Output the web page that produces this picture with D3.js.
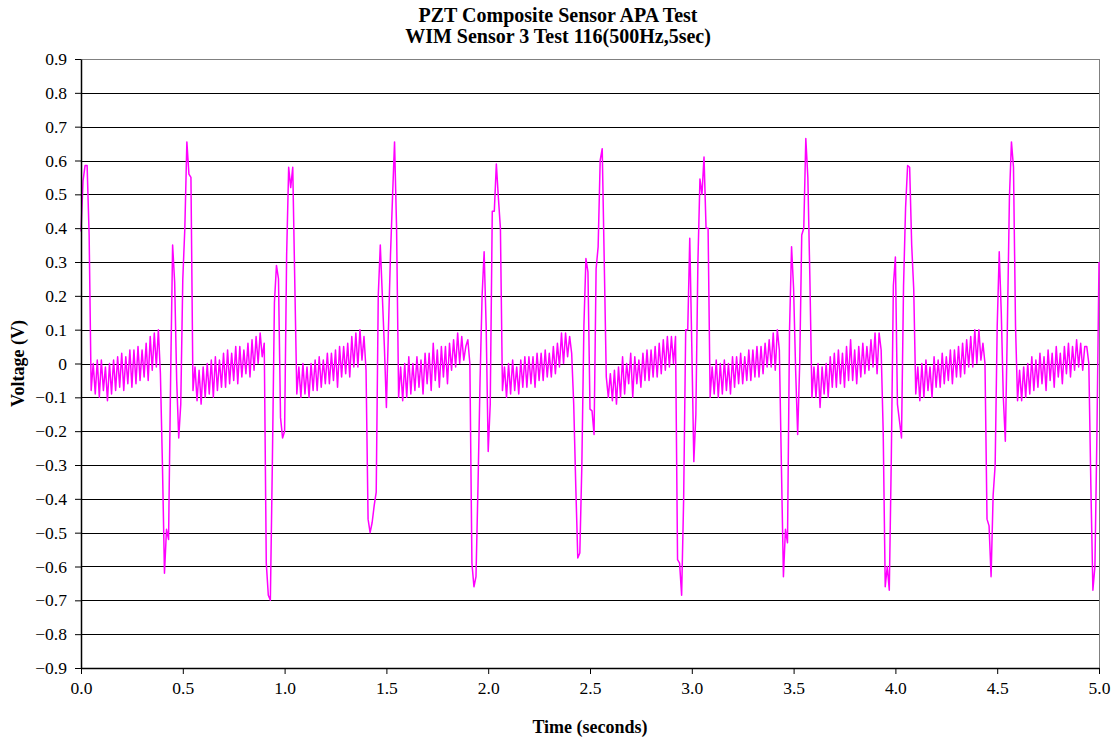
<!DOCTYPE html>
<html>
<head>
<meta charset="utf-8">
<script src="https://cdn.jsdelivr.net/npm/d3@7"></script>
<style>
  html, body { margin: 0; padding: 0; background: #fff; }
  svg text { font-family: "Liberation Serif", "Times New Roman", serif !important; fill: #000; }
</style>
</head>
<body>
<div id="chart"></div>
<script>
// voltage samples, every 0.01 s, split in half-second blocks
const step = 0.01;
const blockStart = [0.0, 0.5, 1.0, 1.5, 2.0, 2.5, 3.0, 3.5, 4.0, 4.5];

const block0 = [0.39, 0.54, 0.585, 0.585, 0.38, -0.08, 0.00, -0.09, 0.01, -0.10,
  0.01, -0.08, -0.01, -0.11, 0.00, -0.09, 0.01, -0.08, 0.02, -0.07,
  0.03, -0.08, 0.02, -0.06, 0.04, -0.07, 0.04, -0.06, 0.05, -0.05,
  0.04, -0.04, 0.06, -0.05, 0.08, -0.02, 0.09, -0.01, 0.10, -0.03,
  -0.30, -0.62, -0.49, -0.52, -0.05, 0.35, 0.24, -0.05, -0.22, -0.12];
const block1 = [0.25, 0.40, 0.655, 0.56, 0.55, -0.08, -0.01, -0.11, -0.02, -0.12,
  -0.01, -0.10, 0.00, -0.09, 0.01, -0.10, 0.02, -0.08, 0.01, -0.07,
  0.03, -0.07, 0.04, -0.06, 0.03, -0.05, 0.05, -0.06, 0.05, -0.04,
  0.04, -0.03, 0.06, -0.04, 0.07, -0.02, 0.08, 0.00, 0.09, 0.02,
  0.06, -0.59, -0.685, -0.70, -0.29, 0.18, 0.29, 0.25, -0.16, -0.22];
const block2 = [-0.20, 0.32, 0.58, 0.52, 0.58, 0.24, -0.09, -0.01, -0.10, 0.00,
  -0.09, -0.01, -0.10, 0.00, -0.08, 0.01, -0.08, 0.02, -0.07, 0.01,
  -0.06, 0.03, -0.06, 0.03, -0.05, 0.04, -0.07, 0.05, -0.04, 0.05,
  -0.03, 0.06, -0.04, 0.08, -0.01, 0.09, -0.01, 0.10, 0.01, 0.08,
  -0.02, -0.46, -0.50, -0.47, -0.42, -0.38, 0.20, 0.35, 0.20, 0.05];
const block3 = [-0.13, 0.10, 0.32, 0.49, 0.655, 0.40, -0.10, -0.01, -0.11, 0.00,
  -0.10, 0.02, -0.09, 0.00, -0.08, 0.02, -0.07, 0.01, -0.09, 0.03,
  -0.06, 0.03, -0.08, 0.06, -0.05, 0.04, -0.07, 0.05, -0.04, 0.05,
  -0.06, 0.06, -0.02, 0.07, -0.01, 0.09, 0.00, 0.08, 0.01, 0.05,
  0.07, 0.00, -0.59, -0.66, -0.63, -0.36, -0.05, 0.20, 0.33, 0.11];
const block4 = [-0.26, -0.12, 0.45, 0.45, 0.59, 0.49, 0.40, -0.08, -0.01, -0.10,
  0.00, -0.09, 0.01, -0.08, -0.01, -0.09, 0.01, -0.07, 0.02, -0.07,
  0.02, -0.06, 0.02, -0.07, 0.03, -0.05, 0.03, -0.05, 0.04, -0.04,
  0.03, -0.04, 0.05, -0.03, 0.06, -0.01, 0.09, 0.00, 0.09, 0.02,
  0.08, 0.03, -0.12, -0.36, -0.575, -0.56, -0.30, 0.11, 0.31, 0.27];
const block5 = [-0.135, -0.14, -0.21, 0.28, 0.345, 0.60, 0.635, 0.30, -0.04, -0.10,
  -0.03, -0.11, -0.02, -0.12, -0.01, -0.10, 0.02, -0.09, 0.00, -0.06,
  0.03, -0.10, 0.02, -0.06, 0.01, -0.07, 0.03, -0.05, 0.04, -0.05,
  0.04, -0.04, 0.05, -0.04, 0.06, -0.03, 0.07, -0.02, 0.08, -0.01,
  0.08, 0.00, 0.08, -0.58, -0.59, -0.685, -0.40, 0.10, 0.10, 0.37];
const block6 = [0.05, -0.29, -0.15, 0.30, 0.545, 0.50, 0.61, 0.40, 0.40, -0.10,
  -0.01, -0.09, 0.01, -0.10, 0.00, -0.09, 0.01, -0.08, 0.00, -0.09,
  0.02, -0.07, 0.02, -0.06, 0.03, -0.06, 0.02, -0.05, 0.04, -0.05,
  0.04, -0.04, 0.05, -0.04, 0.05, -0.03, 0.06, -0.01, 0.07, -0.01,
  0.09, -0.02, 0.10, 0.04, -0.30, -0.63, -0.49, -0.53, 0.10, 0.345];
const block7 = [0.22, -0.02, -0.21, 0.00, 0.38, 0.40, 0.665, 0.55, 0.25, -0.10,
  -0.01, -0.10, 0.00, -0.13, -0.01, -0.09, 0.00, -0.10, 0.02, -0.07,
  0.03, -0.07, 0.04, -0.06, 0.03, -0.07, 0.05, -0.05, 0.07, -0.05,
  0.04, -0.06, 0.05, -0.04, 0.06, -0.03, 0.05, -0.02, 0.07, -0.01,
  0.09, -0.03, 0.09, 0.04, -0.20, -0.66, -0.60, -0.67, -0.275, 0.23];
const block8 = [0.315, -0.12, -0.17, -0.22, 0.23, 0.46, 0.585, 0.58, 0.35, 0.22,
  -0.09, -0.01, -0.11, 0.00, -0.10, 0.01, -0.08, -0.01, -0.10, 0.02,
  -0.07, 0.01, -0.07, 0.03, -0.06, 0.02, -0.05, 0.04, -0.06, 0.04,
  -0.04, 0.05, -0.04, 0.06, -0.03, 0.07, -0.01, 0.08, -0.01, 0.10,
  0.00, 0.10, 0.01, 0.06, 0.00, -0.46, -0.48, -0.63, -0.39, -0.30];
const block9 = [0.11, 0.33, 0.15, -0.10, -0.23, 0.11, 0.49, 0.655, 0.58, 0.11,
  -0.11, -0.02, -0.11, -0.01, -0.10, 0.00, -0.09, 0.02, -0.08, 0.01,
  -0.07, 0.03, -0.06, 0.02, -0.08, 0.04, -0.05, 0.03, -0.07, 0.05,
  -0.04, 0.03, -0.06, 0.05, -0.03, 0.06, -0.04, 0.05, -0.02, 0.07,
  -0.01, 0.06, -0.02, 0.05, 0.05, 0.00, -0.36, -0.67, -0.60, -0.20,
  0.30];

const xTicks = [0.0, 0.5, 1.0, 1.5, 2.0, 2.5, 3.0, 3.5, 4.0, 4.5, 5.0];
const yTicks = [-0.9, -0.8, -0.7, -0.6, -0.5, -0.4, -0.3, -0.2, -0.1, 0,
  0.1, 0.2, 0.3, 0.4, 0.5, 0.6, 0.7, 0.8, 0.9];

const titleLines = ['PZT Composite Sensor APA Test', 'WIM Sensor 3 Test 116(500Hz,5sec)'];
const xTitle = 'Time (seconds)';
const yTitle = 'Voltage (V)';

const blocks = [block0, block1, block2, block3, block4, block5, block6, block7, block8, block9];
const data = blocks.flatMap((arr, k) =>
  arr.map((v, j) => ({ t: Math.round((blockStart[k] + j * step) * 1000) / 1000, v })));

const serif = '"Liberation Serif", "Times New Roman", serif';
const totalW = 1117, totalH = 738;
const margin = { top: 59, right: 18, bottom: 70, left: 81 };
const W = 1099 - margin.left;
const H = 668 - margin.top;

const svg = d3.select('#chart').append('svg')
  .attr('width', totalW).attr('height', totalH);

const g = svg.append('g').attr('transform', `translate(${margin.left},${margin.top})`);

const x = d3.scaleLinear().domain([0, 5]).range([0, W]);
const y = d3.scaleLinear().domain([-0.9, 0.9]).range([H, 0]);

// plot frame (grey) and grid
g.append('rect')
  .attr('x', 0.5).attr('y', 0.5).attr('width', W).attr('height', H)
  .attr('fill', 'none').attr('stroke', '#808080').attr('stroke-width', 1);

g.append('g').selectAll('line')
  .data(yTicks.filter(d => d > -0.85 && d < 0.85)).enter().append('line')
  .attr('x1', 0).attr('x2', W)
  .attr('y1', d => Math.round(y(d)) + 0.5).attr('y2', d => Math.round(y(d)) + 0.5)
  .attr('stroke', '#000').attr('stroke-width', 1);

// signal
const line = d3.line().x(d => x(d.t)).y(d => y(d.v));
g.append('path')
  .datum(data)
  .attr('fill', 'none')
  .attr('stroke', '#FF00FF')
  .attr('stroke-width', 1.5)
  .attr('stroke-linejoin', 'round')
  .attr('d', line);

// axes
const fmtY = d => d === 0 ? '0' : d3.format('.1f')(d);
const yAxis = g.append('g')
  .call(d3.axisLeft(y).tickValues(yTicks).tickFormat(fmtY).tickSizeInner(6).tickSizeOuter(0).tickPadding(8));
yAxis.attr('font-family', serif);
yAxis.select('.domain').attr('stroke', '#000').attr('stroke-width', 1.5);
yAxis.selectAll('line').attr('stroke', '#000');
yAxis.selectAll('text').style('font-size', '17.5px').style('font-family', serif).attr('fill', '#000');

const xAxis = g.append('g').attr('transform', `translate(0,${H})`)
  .call(d3.axisBottom(x).tickValues(xTicks).tickFormat(d3.format('.1f')).tickSizeInner(6).tickSizeOuter(0).tickPadding(8));
xAxis.attr('font-family', serif);
xAxis.select('.domain').attr('stroke', '#000').attr('stroke-width', 1.5);
xAxis.selectAll('line').attr('stroke', '#000');
xAxis.selectAll('text').style('font-size', '17.5px').style('font-family', serif).attr('fill', '#000');

// titles
svg.append('g').selectAll('text')
  .data(titleLines).enter().append('text')
  .attr('x', 558).attr('y', (d, i) => 22 + i * 21)
  .attr('text-anchor', 'middle')
  .style('font-size', '20px').style('font-weight', 'bold')
  .text(d => d);

svg.append('text')
  .attr('x', margin.left + W / 2).attr('y', 733)
  .attr('text-anchor', 'middle')
  .style('font-size', '18px').style('font-weight', 'bold')
  .text(xTitle);

svg.append('text')
  .attr('transform', `translate(24,${margin.top + H / 2}) rotate(-90)`)
  .attr('text-anchor', 'middle')
  .style('font-size', '18px').style('font-weight', 'bold')
  .text(yTitle);
</script>
</body>
</html>
